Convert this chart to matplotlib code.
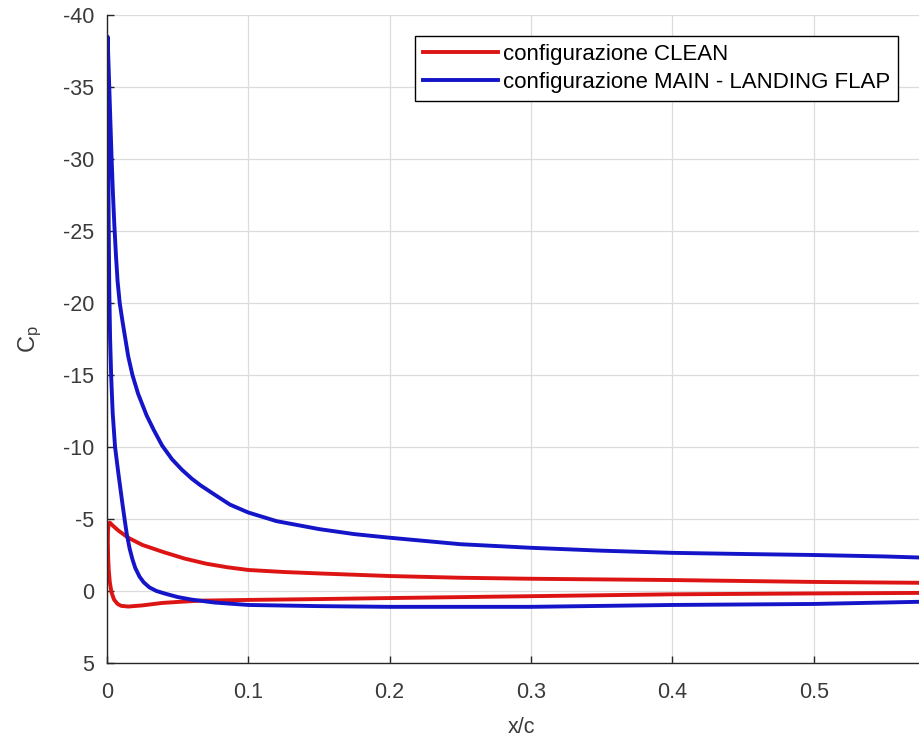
import numpy as np
import matplotlib
matplotlib.use('Agg')
import matplotlib.pyplot as plt

plt.rcParams['font.family'] = ['Liberation Sans', 'DejaVu Sans']
plt.rcParams['mathtext.default'] = 'regular'
plt.rcParams['axes.unicode_minus'] = False

# ---------- data ----------
# CLEAN: upper surface from trailing side to leading edge, then lower surface back
clean_x = [0.60, 0.50, 0.40, 0.30, 0.25, 0.20, 0.15, 0.125, 0.10, 0.085, 0.07, 0.055, 0.04, 0.025,
           0.015, 0.008, 0.004, 0.002,
           0.0012, 0.0007, 0.0006, 0.0008, 0.0012, 0.0020, 0.0032, 0.005, 0.0075, 0.010, 0.015,
           0.025, 0.039, 0.050, 0.066, 0.10, 0.15, 0.20, 0.30, 0.40, 0.50, 0.60]
clean_cp = [-0.55, -0.63, -0.76, -0.85, -0.92, -1.04, -1.22, -1.32, -1.46, -1.65, -1.9, -2.25, -2.7, -3.2,
            -3.7, -4.2, -4.55, -4.75,
            -4.65, -4.2, -3.4, -2.4, -1.5, -0.6, 0.1, 0.6, 0.9, 1.03, 1.08,
            1.0, 0.83, 0.76, 0.67, 0.62, 0.56, 0.49, 0.36, 0.23, 0.17, 0.12]

# MAIN - LANDING FLAP
flap_x = [0.60, 0.55, 0.50, 0.45, 0.40, 0.35, 0.30, 0.25, 0.20, 0.175, 0.15, 0.12, 0.10, 0.087, 0.076,
          0.066, 0.060, 0.053, 0.046, 0.039, 0.033, 0.028, 0.022, 0.018, 0.015, 0.013, 0.011, 0.009,
          0.0075, 0.0064, 0.0052, 0.0042, 0.0032, 0.0024, 0.0015, 0.0008, 0.0004,
          0.0006, 0.0009, 0.0012, 0.0016, 0.0022, 0.0030, 0.0040, 0.0057, 0.0080, 0.0095,
          0.011, 0.0125, 0.014, 0.016, 0.018, 0.020, 0.023, 0.026, 0.030, 0.035, 0.041, 0.050,
          0.060, 0.076, 0.10, 0.15, 0.20, 0.30, 0.40, 0.50, 0.60]
flap_cp = [-2.25, -2.4, -2.5, -2.57, -2.65, -2.8, -3.0, -3.25, -3.7, -3.95, -4.3, -4.85, -5.45, -6.0, -6.7,
           -7.35, -7.8, -8.42, -9.15, -10.1, -11.2, -12.2, -13.7, -15.0, -16.3, -17.5, -18.7, -20.0,
           -21.5, -23.2, -25.4, -27.6, -30.2, -32.6, -35.3, -37.4, -38.5,
           -35.0, -30.0, -25.5, -21.0, -17.5, -14.8, -12.4, -10.0, -8.2, -7.1,
           -6.0, -4.95, -3.95, -2.95, -2.2, -1.6, -1.0, -0.6, -0.25, 0.0, 0.18, 0.42,
           0.6, 0.8, 0.97, 1.05, 1.1, 1.1, 0.97, 0.9, 0.7]

labels = ['configurazione CLEAN', 'configurazione MAIN - LANDING FLAP']
colors = ['#dc1414', '#1414c8']

xticks = [0, 0.1, 0.2, 0.3, 0.4, 0.5]
xticklabels = ['0', '0.1', '0.2', '0.3', '0.4', '0.5']
yticks = [-40, -35, -30, -25, -20, -15, -10, -5, 0, 5]

# ---------- figure ----------
W, H = 919, 742
fig = plt.figure(figsize=(W / 100, H / 100), dpi=100)
left, right, top, bottom = 107, 955, 15, 663
ax = fig.add_axes([left / W, 1 - bottom / H, (right - left) / W, (bottom - top) / H])

ax.plot(clean_x, clean_cp, color=colors[0], lw=2.8, label=labels[0], solid_joinstyle='round')
ax.plot(flap_x, flap_cp, color=colors[1], lw=2.8, label=labels[1], solid_joinstyle='round')

ax.set_xlim(0, 0.6)
ax.set_ylim(5, -40)
ax.set_xticks(xticks)
ax.set_xticklabels(xticklabels)
ax.set_xticks([0.6], minor=True)
ax.set_yticks(yticks)

axcol = '#262626'
ax.grid(True, which='both', color='#dcdcdc', lw=0.9)
ax.set_axisbelow(True)
for s in ['top', 'right']:
    ax.spines[s].set_visible(False)
for s in ['left', 'bottom']:
    ax.spines[s].set_color(axcol)
    ax.spines[s].set_linewidth(1.0)
ax.tick_params(direction='in', length=5, width=1.0, color=axcol, labelcolor='#3a3a3a', labelsize=15.5)
ax.tick_params(which='minor', length=0)
ax.tick_params(axis='x', pad=14)
ax.tick_params(axis='y', pad=9)

ax.set_xlabel('x/c', fontsize=15.5, color='#3a3a3a')
ax.xaxis.set_label_coords((521 - left) / (right - left), -0.083)
ax.set_ylabel('C$_p$', fontsize=17, color='#3a3a3a', labelpad=14)

leg = ax.legend(loc='upper left', bbox_to_anchor=((415 - left) / (right - left), 1 - (36 - top) / (bottom - top)),
                fontsize=16, frameon=True, fancybox=False, edgecolor='black', framealpha=1,
                borderaxespad=0, borderpad=0.35, handlelength=3.4, handletextpad=0.2, labelspacing=0.33)
leg.get_frame().set_linewidth(1.0)

fig.savefig('out.png', dpi=100, facecolor='white')
